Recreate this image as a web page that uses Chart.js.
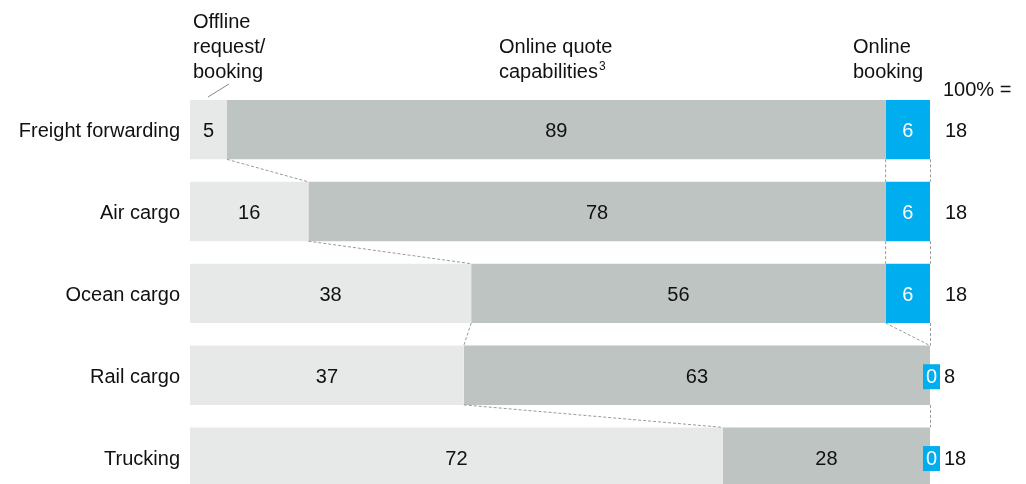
<!DOCTYPE html>
<html>
<head>
<meta charset="utf-8">
<script src="https://cdn.jsdelivr.net/npm/chart.js@4/dist/chart.umd.min.js"></script>
<style>
  html, body { margin: 0; padding: 0; background: #fff; overflow: hidden; height: 484px; }
  canvas { display: block; }
</style>
</head>
<body>
<canvas id="chart" width="1026" height="520"></canvas>
<script>
const categories = ["Freight forwarding", "Air cargo", "Ocean cargo", "Rail cargo", "Trucking"];
const offline = [5, 16, 38, 37, 72];
const quote = [89, 78, 56, 63, 28];
const booking = [6, 6, 6, 0, 0];
const totals = [18, 18, 18, 8, 18];

const FONT = "'Liberation Sans', Arial, sans-serif";
const LIGHT = "#e7e9e8";
const MID = "#bec4c1";
const BLUE = "#00aeef";

// labels, headers and dashed connectors between bars
const overlay = {
  id: "overlay",
  afterDatasetsDraw(chart) {
    const { ctx, scales: { x } } = chart;
    const metas = [0, 1, 2].map(i => chart.getDatasetMeta(i));
    const sets = [offline, quote, booking];
    ctx.save();
    ctx.font = "20px " + FONT;
    ctx.textBaseline = "middle";

    // values inside segments
    metas.forEach((m, di) => {
      m.data.forEach((bar, i) => {
        const v = sets[di][i];
        if (di === 2 && v === 0) {
          const cx = x.getPixelForValue(100);
          ctx.fillStyle = BLUE;
          ctx.fillRect(cx - 7, bar.y - 11, 17, 25);
          ctx.fillStyle = "#fff";
          ctx.textAlign = "center";
          ctx.fillText(String(v), cx + 1.5, bar.y + 2);
          return;
        }
        const left = Math.min(bar.x, bar.base), right = Math.max(bar.x, bar.base);
        ctx.fillStyle = di === 2 ? "#fff" : "#111";
        ctx.textAlign = "center";
        ctx.fillText(String(v), (left + right) / 2, bar.y + 2);
      });
    });

    // totals on the right
    ctx.fillStyle = "#111";
    ctx.textAlign = "left";
    metas[0].data.forEach((bar, i) => {
      const tx = booking[i] === 0 ? 944 : 945;
      ctx.fillText(String(totals[i]), tx, bar.y + 2);
    });

    // dashed connectors between consecutive bars
    ctx.strokeStyle = "#9a9a9a";
    ctx.lineWidth = 1;
    ctx.setLineDash([3, 2]);
    const line = (x1, y1, x2, y2) => {
      ctx.beginPath();
      ctx.moveTo(x1, y1);
      ctx.lineTo(x2, y2);
      ctx.stroke();
    };
    for (let i = 0; i < categories.length - 1; i++) {
      const a = metas[0].data[i], b = metas[0].data[i + 1];
      const aBot = a.y + a.height / 2, bTop = b.y - b.height / 2;
      line(x.getPixelForValue(offline[i]), aBot, x.getPixelForValue(offline[i + 1]), bTop);
      const qa = offline[i] + quote[i], qb = offline[i + 1] + quote[i + 1];
      if (booking[i] > 0 || booking[i + 1] > 0) {
        line(x.getPixelForValue(qa), aBot, x.getPixelForValue(qb), bTop);
      }
      line(x.getPixelForValue(100) + 0.5, aBot, x.getPixelForValue(100) + 0.5, bTop);
    }
    ctx.setLineDash([]);

    // column headers
    ctx.fillStyle = "#111";
    ctx.textAlign = "left";
    ctx.textBaseline = "alphabetic";
    ctx.font = "20px " + FONT;
    ["Offline", "request/", "booking"].forEach((t, k) => ctx.fillText(t, 193, 28 + k * 25));
    ctx.fillText("Online quote", 499, 53);
    ctx.fillText("capabilities", 499, 78);
    const cw = ctx.measureText("capabilities").width;
    ctx.font = "12px " + FONT;
    ctx.fillText("3", 499 + cw + 1, 70);
    ctx.font = "20px " + FONT;
    ctx.fillText("Online", 853, 53);
    ctx.fillText("booking", 853, 78);
    ctx.fillText("100% =", 943, 96);

    // leader from header to first offline segment
    ctx.strokeStyle = "#888";
    line(229, 84, 208, 97);
    ctx.restore();
  }
};

new Chart(document.getElementById("chart"), {
  type: "bar",
  data: {
    labels: categories,
    datasets: [
      { label: "Offline request/booking", data: offline, backgroundColor: LIGHT },
      { label: "Online quote capabilities", data: quote, backgroundColor: MID },
      { label: "Online booking", data: booking, backgroundColor: BLUE }
    ]
  },
  options: {
    indexAxis: "y",
    responsive: false,
    animation: false,
    events: [],
    layout: { padding: { top: 88.75, bottom: 16.25, right: 96, left: 0 } },
    datasets: { bar: { categoryPercentage: 1, barPercentage: 0.725, borderWidth: 0 } },
    plugins: { legend: { display: false }, tooltip: { enabled: false } },
    scales: {
      x: { stacked: true, min: 0, max: 100, display: false },
      y: {
        stacked: true,
        grid: { display: false, drawTicks: false },
        border: { display: false },
        ticks: { color: "#111", font: { family: FONT, size: 20 }, padding: 10, labelOffset: 2 },
        afterFit(scale) { scale.width = 190; }
      }
    }
  },
  plugins: [overlay]
});
</script>
</body>
</html>
